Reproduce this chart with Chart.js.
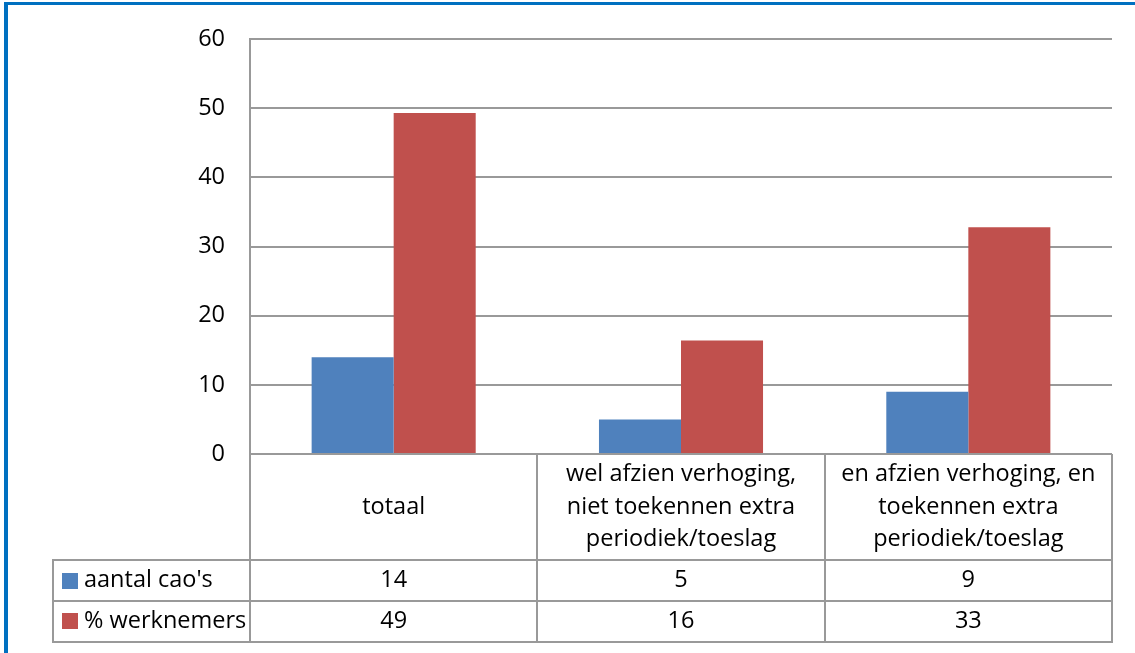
<!DOCTYPE html>
<html>
<head>
<meta charset="utf-8">
<script src="https://cdn.jsdelivr.net/npm/chart.js@4"></script>
<style>
  html, body { margin: 0; padding: 0; background: #fff; }
  #wrap { position: relative; width: 1135px; height: 653px; overflow: hidden; }
  #frame { position: absolute; left: 4px; top: 2px; right: -10px; bottom: -10px;
           border-left: 4px solid #0070C0; border-top: 3px solid #0070C0; pointer-events: none; }
  canvas { position: absolute; left: 0; top: 0; }
</style>
</head>
<body>
<div id="wrap">
  <canvas id="c" width="1135" height="653"></canvas>
  <div id="frame"></div>
</div>
<script>
// ---- data ----
const categories = [
  ["totaal"],
  ["wel afzien verhoging,", "niet toekennen extra", "periodiek/toeslag"],
  ["en afzien verhoging, en", "toekennen extra", "periodiek/toeslag"]
];
const seriesNames = ["aantal cao's", "% werknemers"];
const aantalCaos = [14, 5, 9];
const pctWerknemers = [49.3, 16.4, 32.8];
const yTickValues = [0, 10, 20, 30, 40, 50, 60];

const colors = ["#4F81BD", "#C0504D"];
const FONT = "'Open Sans', Lato, sans-serif";
const FONT_SIZE = 23.5;
const GRID = "#999999";

const tablePlugin = {
  id: "dataTable",
  afterDraw(chart) {
    const ctx = chart.ctx;
    const xs = chart.scales.x;
    const area = chart.chartArea;
    const left = area.left, right = area.right, top = area.bottom;
    const n = categories.length;
    const colW = (right - left) / n;
    const row1 = top + 106, row2 = row1 + 41, row3 = row2 + 40.5;
    const legendLeft = 53;
    ctx.save();
    ctx.strokeStyle = GRID;
    ctx.lineWidth = 2;
    ctx.beginPath();
    for (let i = 0; i <= n; i++) {
      const x = Math.round(left + i * colW);
      ctx.moveTo(x, top);
      ctx.lineTo(x, row3);
    }
    ctx.moveTo(legendLeft, row1); ctx.lineTo(legendLeft, row3);
    [row1, row2, row3].forEach(y => {
      ctx.moveTo(legendLeft - 1, Math.round(y));
      ctx.lineTo(right + 1, Math.round(y));
    });
    ctx.stroke();

    ctx.fillStyle = "#000";
    ctx.font = FONT_SIZE + "px " + FONT;
    ctx.textAlign = "center";
    ctx.textBaseline = "middle";
    const midCat = (top + row1) / 2;
    categories.forEach((lines, i) => {
      const cx = xs.getPixelForValue(i);
      const lh = 32.5;
      const start = midCat - (lines.length - 1) * lh / 2;
      lines.forEach((t, j) => ctx.fillText(t, cx, start + j * lh));
    });
    const series = [aantalCaos, pctWerknemers];
    const rowMids = [(row1 + row2) / 2, (row2 + row3) / 2];
    series.forEach((vals, s) => {
      vals.forEach((v, i) => {
        ctx.fillText(String(Math.round(v)), xs.getPixelForValue(i), rowMids[s]);
      });
      ctx.fillStyle = colors[s];
      ctx.fillRect(62, Math.round(rowMids[s] - 8), 16, 16);
      ctx.fillStyle = "#000";
      ctx.textAlign = "left";
      ctx.fillText(seriesNames[s], 84, rowMids[s]);
      ctx.textAlign = "center";
    });
    ctx.restore();
  }
};

new Chart(document.getElementById("c"), {
  type: "bar",
  data: {
    labels: categories.map(c => c.join(" ")),
    datasets: [
      { label: seriesNames[0], data: aantalCaos, backgroundColor: colors[0],
        categoryPercentage: 0.571, barPercentage: 1.0 },
      { label: seriesNames[1], data: pctWerknemers, backgroundColor: colors[1],
        categoryPercentage: 0.571, barPercentage: 1.0 }
    ]
  },
  options: {
    responsive: false,
    animation: false,
    events: [],
    layout: { padding: { left: 0, top: 35, right: 23, bottom: 199 } },
    plugins: { legend: { display: false }, tooltip: { enabled: false }, title: { display: false } },
    scales: {
      x: { display: false, grid: { display: false } },
      y: {
        min: 0, max: 60,
        afterFit(scale) { scale.width = 250; },
        afterBuildTicks(scale) { scale.ticks = yTickValues.map(v => ({ value: v })); },
        ticks: { color: "#000", font: { family: FONT, size: FONT_SIZE }, padding: 25 },
        grid: { color: GRID, lineWidth: 2, drawTicks: false },
        border: { display: true, color: GRID, width: 2 }
      }
    }
  },
  plugins: [tablePlugin]
});
</script>
</body>
</html>
